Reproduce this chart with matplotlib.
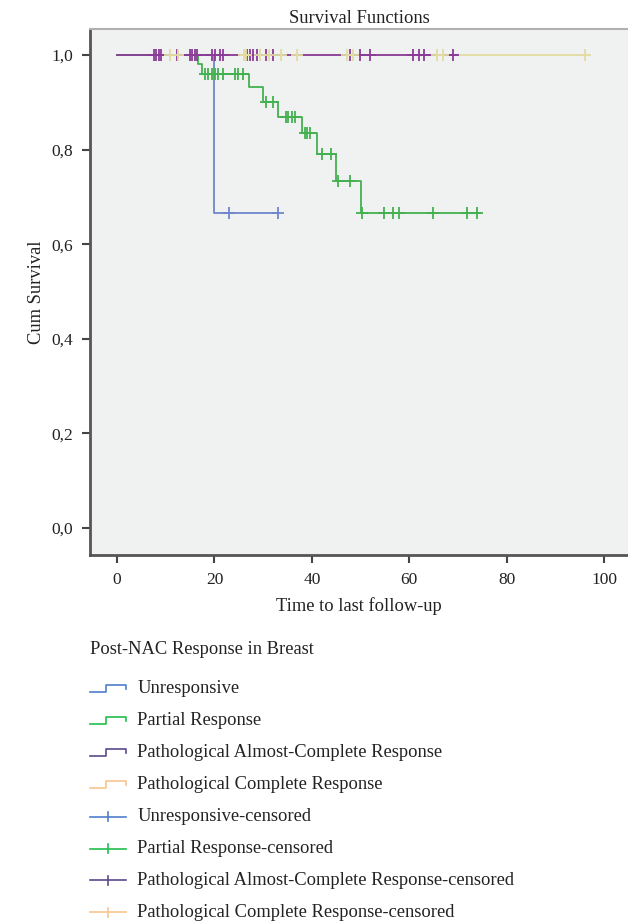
import matplotlib
matplotlib.use("Agg")
import matplotlib.pyplot as plt
from matplotlib.lines import Line2D
from matplotlib.legend_handler import HandlerBase
import numpy as np

plt.rcParams['font.family'] = ['Liberation Serif', 'DejaVu Serif']

# Kaplan-Meier curves: drop times, level after each drop,
# end of follow-up and censoring times
unresp_drops = [20]
unresp_levels = [0.667]
unresp_end = 33
unresp_cens = [23, 33]

partial_drops = [16.6, 17.5, 27, 30, 33, 38, 41, 45, 50]
partial_levels = [0.98, 0.96, 0.932, 0.90, 0.869, 0.835, 0.79, 0.733, 0.667]
partial_end = 74.5
partial_cens = [18.1, 18.7, 19.4, 20.1, 20.8, 21.8, 24.2, 24.8, 25.9,
                30.6, 32.0, 34.6, 35.2, 35.9, 36.6, 38.5, 39.1, 39.7,
                42.0, 43.9, 45.3, 47.8, 50.3, 54.8, 56.7, 57.8, 64.8, 71.8, 73.9]

almost_drops = []
almost_levels = []
almost_end = 69.7
almost_cens = [7.5, 8.0, 8.6, 9.1, 12.3, 14.9, 15.4, 16.0, 16.5, 19.4, 20.1,
               21.2, 21.8, 26.6, 27.3, 28.0, 28.7, 30.5, 32.0, 47.8, 49.8, 52.0,
               60.8, 61.9, 63.1, 68.9]

complete_drops = []
complete_levels = []
complete_end = 96.1
complete_cens = [10.8, 12.6, 26.0, 26.4, 29.3, 31.2, 33.6, 36.9, 47.2, 48.5,
                 65.6, 67.0, 96.1]

group_names = ["Unresponsive", "Partial Response",
               "Pathological Almost-Complete Response",
               "Pathological Complete Response"]
line_colors = ['#6f86cc', '#44b04f', '#8b3b98', '#e2dba2']
legend_colors = ['#4f7fcc', '#22bf4c', '#5b4a8c', '#f9c591']

groups = [
    (unresp_drops, unresp_levels, unresp_end, unresp_cens),
    (partial_drops, partial_levels, partial_end, partial_cens),
    (almost_drops, almost_levels, almost_end, almost_cens),
    (complete_drops, complete_levels, complete_end, complete_cens),
]

FS = 13.3


def level_at(t, drops, levels):
    s = 1.0
    for d, l in zip(drops, levels):
        if t >= d:
            s = l
    return s


class StepHandler(HandlerBase):
    def create_artists(self, legend, orig_handle, xdescent, ydescent,
                       width, height, fontsize, trans):
        w, h = width, height
        x0 = -xdescent
        xs = [x0, x0 + 0.45 * w, x0 + 0.45 * w, x0 + w, x0 + w]
        ys = [0.1 * h, 0.1 * h, 0.65 * h, 0.65 * h, 0.3 * h]
        ln = Line2D(xs, ys, color=orig_handle.get_color(), lw=1.2, transform=trans)
        return [ln]


class CensHandler(HandlerBase):
    def create_artists(self, legend, orig_handle, xdescent, ydescent,
                       width, height, fontsize, trans):
        w, h = width, height
        x0 = -xdescent
        ln = Line2D([x0, x0 + w], [0.35 * h, 0.35 * h],
                    color=orig_handle.get_color(), lw=1.2, transform=trans)
        tk = Line2D([x0 + 0.5 * w, x0 + 0.5 * w], [0.0 * h, 0.7 * h],
                    color=orig_handle.get_color(), lw=1.2, transform=trans)
        return [ln, tk]


fig = plt.figure(figsize=(6.28, 9.22), dpi=100)
ax = fig.add_axes([90 / 628, 1 - 555 / 922, 538 / 628, 526 / 922])
ax.set_facecolor('#f0f1f1')

zorders = [3, 4, 5, 2]
for i, (drops, levels, end, cens) in enumerate(groups):
    xs = [0] + list(drops) + [end]
    ys = [1.0] + list(levels) + [levels[-1] if levels else 1.0]
    ax.plot(xs, ys, drawstyle='steps-post', color=line_colors[i], lw=1.3,
            zorder=zorders[i])
for i, (drops, levels, end, cens) in enumerate(groups):
    cy = [level_at(t, drops, levels) for t in cens]
    ax.plot(cens, cy, ls='none', marker='+', ms=9, mew=1.3,
            color=line_colors[i], zorder=6 + (i == 3))

ax.set_xlim(-5.55, 104.9)
ax.set_ylim(-0.057, 1.055)
ax.set_xticks([0, 20, 40, 60, 80, 100])
ax.set_yticks([0, 0.2, 0.4, 0.6, 0.8, 1.0])
ax.set_yticklabels(['0,0', '0,2', '0,4', '0,6', '0,8', '1,0'])
ax.tick_params(direction='out', length=6, width=1.5, color='#444444',
               labelsize=12.5, labelcolor='#222222', pad=6)
for sp in ['left', 'bottom']:
    ax.spines[sp].set_color('#555555')
    ax.spines[sp].set_linewidth(2)
ax.spines['top'].set_color('#b0b0b0')
ax.spines['top'].set_linewidth(1.5)
ax.spines['right'].set_visible(False)

ax.set_title("Survival Functions", fontsize=FS, color='#222222', pad=4)
ax.set_xlabel("Time to last follow-up", fontsize=FS, color='#222222', labelpad=7)
ax.set_ylabel("Cum Survival", fontsize=FS, color='#222222', labelpad=5)

handles = [Line2D([], [], color=c) for c in legend_colors]
cens_handles = [Line2D([], [], color=c) for c in legend_colors]
handler_map = {h: StepHandler() for h in handles}
handler_map.update({h: CensHandler() for h in cens_handles})
labels = group_names + [n + "-censored" for n in group_names]
leg = fig.legend(handles + cens_handles, labels, handler_map=handler_map,
                 loc='upper left', bbox_to_anchor=(90 / 628, 1 - 641 / 922),
                 borderpad=0, borderaxespad=0,
                 frameon=False, fontsize=FS, title="Post-NAC Response in Breast",
                 title_fontsize=FS, alignment='left', handlelength=1.95,
                 handletextpad=0.62, labelspacing=0.81)
leg.get_title().set_color('#222222')
for t in leg.get_texts():
    t.set_color('#222222')
leg._legend_box.sep = 16

fig.savefig("out.png", dpi=100)
